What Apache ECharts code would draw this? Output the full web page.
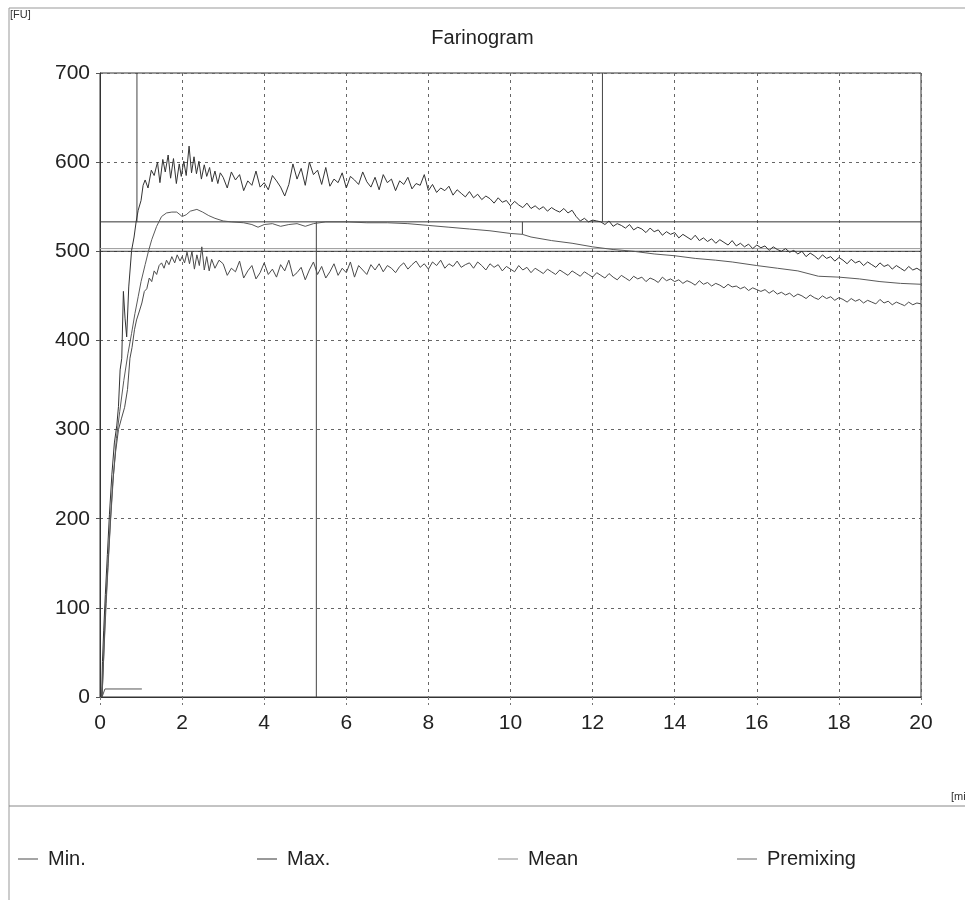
<!DOCTYPE html>
<html>
<head>
<meta charset="utf-8">
<title>Farinogram</title>
<script src="https://cdn.jsdelivr.net/npm/echarts@6/dist/echarts.min.js"></script>
<style>
  html, body { margin: 0; padding: 0; background: #fff; }
  #chart { width: 965px; height: 900px; }
</style>
</head>
<body>
<div id="chart"></div>
<script>
// Farinogram readings: consistency in Farinograph units [FU] over mixing time [min]
const xTicks = { min: 0, max: 20, step: 2 };
const yTicks = { min: 0, max: 700, step: 100 };

// Upper envelope, first minutes as [min, FU]
const maxEarly = [[0.04,0],[0.06,40],[0.09,75],[0.13,115],[0.18,160],[0.23,205],[0.29,250],[0.35,285],[0.41,305],[0.45,326],[0.49,367],[0.53,380],[0.57,455],[0.61,425],[0.65,404],[0.7,460],[0.77,501],[0.83,516],[0.88,533],[0.93,546],[1.0,557],[1.05,574],[1.1,580],[1.17,571],[1.25,591],[1.32,585],[1.4,600],[1.46,577],[1.53,603],[1.59,589],[1.66,608],[1.72,582],[1.79,604],[1.86,576],[1.93,598],[1.98,584],[2.04,601],[2.1,585],[2.17,618],[2.23,588],[2.29,606],[2.35,587],[2.41,601],[2.47,581],[2.54,597],[2.6,584],[2.67,594],[2.73,578],[2.8,590],[2.87,576],[2.93,588]];
// Upper envelope from 3.0 min onwards, every 0.1 min
const maxLate = [583,571,589,580,586,568,579,574,590,572,577,569,585,579,572,562,
  575,598,581,593,574,600,586,591,575,594,573,
  581,577,588,571,584,580,575,589,578,572,583,569,586,577,
  581,568,579,575,583,570,576,574,586,568,
  575,566,571,568,573,563,569,565,561,567,560,564,558,
  562,559,554,560,555,557,551,556,552,
  549,554,548,551,547,550,545,549,546,544,548,543,546,539,534,
  537,533,535,534,533,
  530,534,528,531,529,526,530,524,527,525,521,526,522,524,518,522,519,521,
  515,519,516,513,518,512,515,511,514,509,513,510,507,512,506,509,505,508,503,507,
  504,506,501,505,502,500,503,499,501,497,
  500,494,498,495,491,496,492,494,489,493,
  490,486,491,487,489,484,488,485,482,487,483,485,480,484,481,478,483,479,481,478];

// Lower envelope, first minutes as [min, FU]
const minEarly = [[0.05,0],[0.09,45],[0.13,95],[0.19,145],[0.25,195],[0.31,240],[0.38,275],[0.45,300],[0.52,312],[0.6,325],[0.67,345],[0.73,380],[0.78,392],[0.84,412],[0.89,423],[0.96,433],[1.02,442],[1.08,455],[1.14,458],[1.2,470],[1.26,466],[1.32,478],[1.38,474],[1.44,484],[1.5,487],[1.56,481],[1.62,490],[1.68,485],[1.75,494],[1.82,487],[1.88,496],[1.95,489],[2.0,494],[2.06,487],[2.12,499],[2.18,486],[2.24,500],[2.3,480],[2.36,496],[2.42,484],[2.48,505],[2.54,479],[2.6,494],[2.66,478],[2.72,491],[2.8,481],[2.9,490]];
// Lower envelope from 3.0 min onwards, every 0.1 min
const minLate = [486,473,481,477,489,470,478,484,469,476,487,474,480,471,485,478,490,472,476,482,468,479,488,474,483,470,477,486,473,481,476,488,471,484,479,474,485,
  479,486,477,484,481,476,483,
  487,480,485,489,482,486,480,488,484,490,481,486,483,489,482,485,487,481,488,484,479,486,482,485,478,483,480,477,484,479,482,476,481,478,475,480,477,
  474,479,476,473,478,475,472,477,474,471,476,473,
  470,475,471,468,473,470,467,472,469,471,466,470,468,465,471,467,469,466,
  468,464,467,465,462,467,463,465,461,464,462,459,463,460,461,458,460,456,459,457,
  455,457,453,456,452,454,451,453,449,452,
  450,447,451,448,446,450,447,449,445,448,
  446,443,447,444,446,442,445,443,441,446,442,444,440,443,441,439,443,440,442,441];
const lateStart = 3.0;
const lateStep = 0.1;

// Mean consistency curve [min, FU]
const meanCurve = [[0.05,0],[0.1,55],[0.15,105],[0.2,150],[0.26,200],[0.33,250],[0.4,290],[0.48,320],[0.58,355],[0.68,385],[0.77,408],[0.85,430],[0.93,449],[1.0,466],[1.1,485],[1.18,500],[1.26,513],[1.38,528],[1.5,539],[1.62,543],[1.75,544],[1.87,544],[1.95,541],[2.0,539],[2.1,541],[2.2,545],[2.36,547],[2.5,544],[2.65,540],[2.8,537],[3.0,534],[3.2,533],[3.5,532],[3.7,530],[3.85,527],[4.0,530],[4.2,531],[4.4,528],[4.6,530],[4.8,531],[5.0,528],[5.2,531],[5.5,533],[6.0,533],[6.5,532],[7.0,532],[7.5,531],[8.0,529],[8.5,527],[9.0,525],[9.5,523],[10.0,520],[10.29,519],[10.5,516],[11.0,512],[11.5,509],[12.0,505],[12.5,502],[13.0,500],[13.5,497],[14.0,495],[14.5,492],[15.0,490],[15.4,488],[16.0,484],[16.5,481],[17.0,478],[17.5,472],[18.0,471],[18.5,469],[19.0,466],[19.5,464],[20.0,463]];

// Premixing phase [min, FU]
const premixing = [[0.05,0],[0.12,9],[1.02,9]];

// Evaluation markers [min, FU]
const bandTop = 533;
const targetLine = 500;
const targetLineUpper = 503;
const arrivalTime = 0.9;
const developmentTime = 5.27;
const departureTime = 12.24;
const toleranceTime = 10.29;
const toleranceValue = 519;

function withTimes(values, start, step) {
  return values.map((v, i) => [Math.round((start + i * step) * 100) / 100, v]);
}

const maxData = maxEarly.concat(withTimes(maxLate, lateStart, lateStep));
const minData = minEarly.concat(withTimes(minLate, lateStart, lateStep));

const narrow = "'Liberation Sans Narrow', 'Liberation Sans', Arial, sans-serif";
const regular = "'Liberation Sans', Arial, sans-serif";
const textColor = '#222';

function refLine(points, color) {
  return {
    type: 'line', data: points, silent: true, showSymbol: false, symbol: 'none',
    lineStyle: { color: color, width: 1 }, z: 3, animation: false
  };
}

function legendAt(name, left) {
  return {
    data: [name], left: left, top: 849, padding: 0, icon: 'rect', itemWidth: 20, itemHeight: 1,
    selectedMode: false,
    textStyle: { fontFamily: narrow, fontSize: 20, color: textColor, padding: [0, 0, 0, 5] }
  };
}

const chart = echarts.init(document.getElementById('chart'), null, { renderer: 'canvas' });

chart.setOption({
  backgroundColor: '#fff',
  animation: false,
  title: {
    text: 'Farinogram', left: 'center', top: 23,
    textStyle: { fontFamily: regular, fontSize: 20, fontWeight: 'normal', color: textColor }
  },
  legend: [legendAt('Min.', 18), legendAt('Max.', 257), legendAt('Mean', 498), legendAt('Premixing', 737)],
  grid: { left: 100, top: 73, width: 821, height: 624, show: true, borderColor: '#333', borderWidth: 1, containLabel: false },
  xAxis: {
    type: 'value', min: xTicks.min, max: xTicks.max, interval: xTicks.step,
    axisLine: { show: true, lineStyle: { color: '#333' } },
    axisTick: { show: true, length: 8, inside: false, lineStyle: { color: '#777', type: [3, 3] } },
    axisLabel: { margin: 16, fontFamily: narrow, fontSize: 21, color: textColor },
    splitLine: { show: true, lineStyle: { color: '#666', type: [3, 4], width: 1 } }
  },
  yAxis: {
    type: 'value', min: yTicks.min, max: yTicks.max, interval: yTicks.step,
    axisLine: { show: true, lineStyle: { color: '#333' } },
    axisTick: { show: true, length: 4, inside: false, lineStyle: { color: '#555' } },
    axisLabel: { margin: 10, fontFamily: narrow, fontSize: 21, color: textColor },
    splitLine: { show: true, lineStyle: { color: '#666', type: [3, 4], width: 1 } }
  },
  graphic: [
    { type: 'line', shape: { x1: 9, y1: 8, x2: 965, y2: 8 }, style: { stroke: '#999', lineWidth: 1 }, silent: true },
    { type: 'line', shape: { x1: 9, y1: 8, x2: 9, y2: 900 }, style: { stroke: '#999', lineWidth: 1 }, silent: true },
    { type: 'line', shape: { x1: 9, y1: 806, x2: 965, y2: 806 }, style: { stroke: '#888', lineWidth: 1 }, silent: true },
    { type: 'text', left: 10, top: 9, style: { text: '[FU]', font: "11px " + narrow, fill: '#333' }, silent: true },
    { type: 'text', left: 951, top: 791, style: { text: '[min]', font: "11px " + narrow, fill: '#333' }, silent: true }
  ],
  series: [
    { name: 'Min.', type: 'line', data: minData, showSymbol: false, symbol: 'none', lineStyle: { color: '#4a4a4a', width: 1 }, itemStyle: { color: '#4a4a4a' }, z: 5 },
    { name: 'Max.', type: 'line', data: maxData, showSymbol: false, symbol: 'none', lineStyle: { color: '#333', width: 1 }, itemStyle: { color: '#333' }, z: 5 },
    { name: 'Mean', type: 'line', data: meanCurve, showSymbol: false, symbol: 'none', lineStyle: { color: '#5a5a5a', width: 1 }, itemStyle: { color: '#8a8a8a' }, z: 5 },
    { name: 'Premixing', type: 'line', data: premixing, showSymbol: false, symbol: 'none', lineStyle: { color: '#555', width: 1 }, itemStyle: { color: '#666' }, z: 5 },
    refLine([[xTicks.min, bandTop], [xTicks.max, bandTop]], '#333'),
    refLine([[xTicks.min, targetLine], [xTicks.max, targetLine]], '#333'),
    refLine([[xTicks.min, targetLineUpper], [xTicks.max, targetLineUpper]], '#999'),
    refLine([[arrivalTime, bandTop], [arrivalTime, yTicks.max]], '#444'),
    refLine([[departureTime, bandTop], [departureTime, yTicks.max]], '#444'),
    refLine([[developmentTime, yTicks.min], [developmentTime, bandTop]], '#444'),
    refLine([[toleranceTime, bandTop], [toleranceTime, toleranceValue]], '#444')
  ]
});
</script>
</body>
</html>
